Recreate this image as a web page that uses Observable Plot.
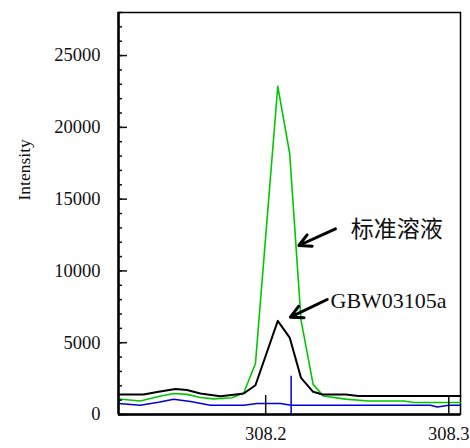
<!DOCTYPE html>
<html>
<head>
<meta charset="utf-8">
<script src="https://cdn.jsdelivr.net/npm/d3@7"></script>
<script src="https://cdn.jsdelivr.net/npm/@observablehq/plot@0.6"></script>
<style>
  html, body { margin: 0; padding: 0; background: #fff; }
  #chart svg { display: block; }
</style>
</head>
<body>
<div id="chart"></div>
<script>
// Wavelength (nm) and intensity values
const blackX = [308.1197, 308.1333, 308.1415, 308.1507, 308.1570, 308.1643, 308.1752, 308.1825, 308.1880, 308.1944, 308.2066, 308.2131, 308.2193, 308.2259, 308.2310, 308.2436, 308.2507, 308.3064];
const blackY = [1393, 1393, 1580, 1770, 1700, 1462, 1270, 1370, 1460, 2040, 6520, 5360, 2550, 1580, 1393, 1393, 1290, 1290];

const greenX = [308.1197, 308.1315, 308.1415, 308.1497, 308.1570, 308.1643, 308.1716, 308.1816, 308.1880, 308.1944, 308.2066, 308.2131, 308.2193, 308.2259, 308.2315, 308.2436, 308.2561, 308.2754, 308.2809, 308.3064];
const greenY = [1080, 940, 1250, 1460, 1400, 1180, 1090, 1170, 1500, 3550, 22860, 18180, 6570, 2100, 1290, 1070, 940, 940, 836, 836];

const blueX = [308.1197, 308.1315, 308.1415, 308.1497, 308.1589, 308.1698, 308.1880, 308.1953, 308.2080, 308.2139, 308.2900, 308.2937, 308.3000, 308.3064];
const blueY = [765, 640, 850, 1065, 900, 650, 650, 760, 760, 650, 650, 520, 650, 650];

// Peak marker (blue) and axis ticks
const markerX = [308.2139];
const markerTop = [2660];
const xTicks = [308.2, 308.3];
const yMajor = [0, 5000, 10000, 15000, 20000, 25000];
const yMinor = d3.range(0, 28001, 1000);
const xDomain = [308.1196, 308.3064];
const yDomain = [0, 28000];

// Annotations
const labels = ["标准溶液", "GBW03105a"];
const labelX = [308.2464, 308.2354];
const labelY = [12886, 7940];
const labelSize = [23, 22];
const arrowX1 = [308.2381, 308.2336];
const arrowY1 = [12935, 8010];
const arrowX2 = [308.2181, 308.2135];
const arrowY2 = [11771, 6777];

const toRows = (xs, ys) => xs.map((x, i) => ({x, y: ys[i]}));
const black = toRows(blackX, blackY);
const green = toRows(greenX, greenY);
const blue = toRows(blueX, blueY);
const markers = markerX.map((x, i) => ({x, y2: markerTop[i]}));
const arrows = arrowX1.map((x1, i) => ({x1, y1: arrowY1[i], x2: arrowX2[i], y2: arrowY2[i]}));
const annots = labels.map((t, i) => ({t, x: labelX[i], y: labelY[i], s: labelSize[i]}));

const serif = "Liberation Serif, Times New Roman, serif";
const cjk = "Noto Sans CJK SC, sans-serif";

const plot = Plot.plot({
  width: 470,
  height: 448,
  marginLeft: 118,
  marginRight: 10,
  marginTop: 12,
  marginBottom: 34,
  style: {fontSize: "18.5px", color: "#111", background: "#fff"},
  x: {domain: xDomain},
  y: {domain: yDomain},
  marks: [
    Plot.frame({stroke: "#000", strokeWidth: 1.5}),
    // lines
    Plot.line(blue, {x: "x", y: "y", stroke: "#0000d8", strokeWidth: 1.5, curve: "linear"}),
    Plot.line(green, {x: "x", y: "y", stroke: "#00c800", strokeWidth: 1.6, curve: "linear"}),
    Plot.line(black, {x: "x", y: "y", stroke: "#000", strokeWidth: 2, curve: "linear"}),
    Plot.ruleX(markers, {x: "x", y1: 0, y2: "y2", stroke: "#0000d8", strokeWidth: 1.5}),
    // axes
    Plot.axisY(yMinor, {tickSize: -4, text: null, strokeWidth: 1.5}),
    Plot.axisY(yMajor, {tickSize: -9, text: null, strokeWidth: 1.5}),
    Plot.axisY(yMajor, {tickSize: 0, tickPadding: 18, tickFormat: d => String(d), label: null, fontSize: 18.5, fill: "#111"}),
    Plot.axisX(xTicks, {tickSize: -19, text: null, strokeWidth: 1.5}),
    Plot.axisX(xTicks, {tickSize: 0, tickPadding: 12, tickFormat: d => d.toFixed(1), label: null, fontSize: 18.5, fill: "#111"}),
    Plot.ruleY([0], {stroke: "#000", strokeWidth: 2.5}),
    Plot.ruleX([xDomain[0]], {stroke: "#000", strokeWidth: 2.5}),
    // y label
    Plot.text(["Intensity"], {frameAnchor: "left", dx: -94, dy: -13, rotate: -90, fontSize: 17.5, fill: "#111"}),
    // annotations
    Plot.arrow(arrows, {x1: "x1", y1: "y1", x2: "x2", y2: "y2", stroke: "#000", strokeWidth: 3, headLength: 13, headAngle: 55}),
    Plot.text(annots, {x: "x", y: "y", text: "t", fontSize: "s", textAnchor: "start", lineAnchor: "middle", fill: "#111"})
  ]
});
// force fonts with inline styles
d3.select(plot).selectAll("text").style("font-family", serif);
d3.select(plot).selectAll("text").filter(function() { return /[\u4e00-\u9fff]/.test(this.textContent); }).style("font-family", cjk);
document.getElementById("chart").appendChild(plot);
</script>
</body>
</html>
